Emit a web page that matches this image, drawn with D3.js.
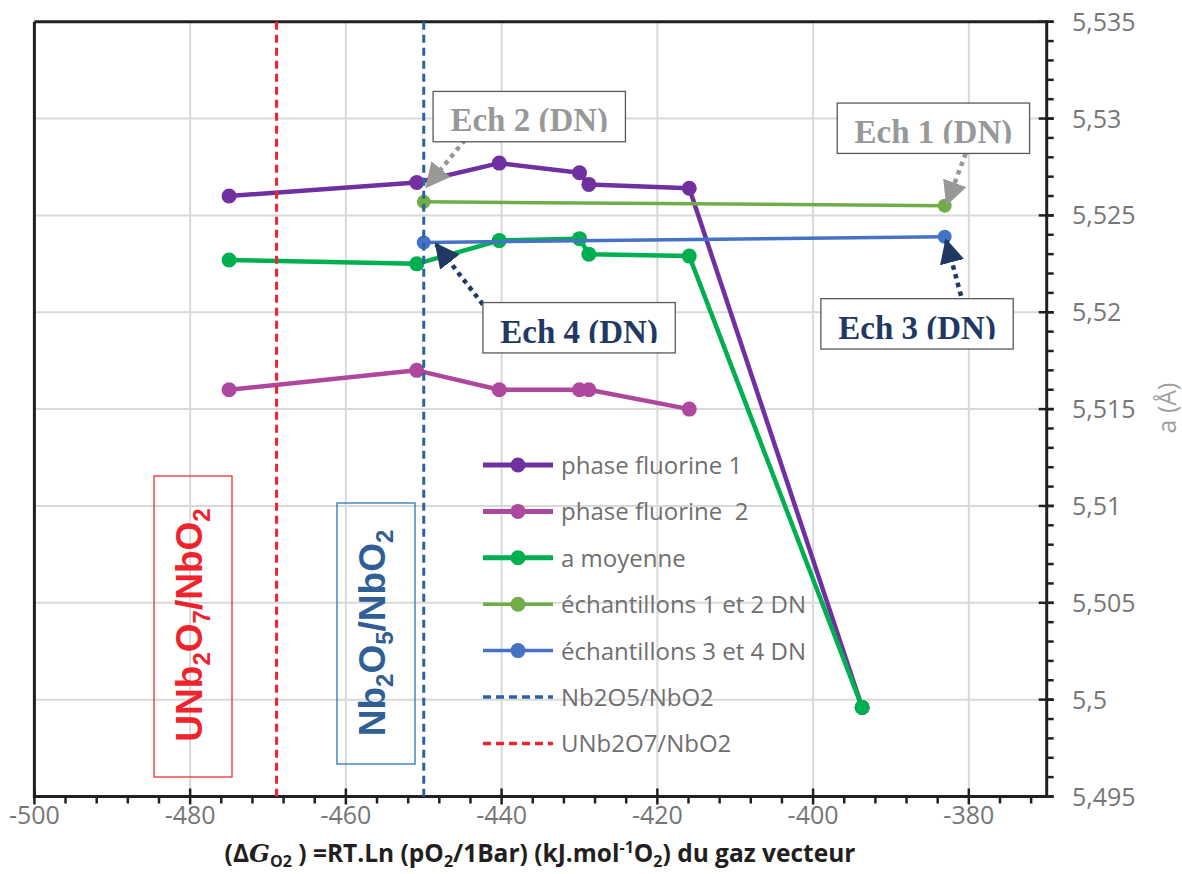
<!DOCTYPE html>
<html><head><meta charset="utf-8">
<script src="https://cdn.jsdelivr.net/npm/d3@7"></script>
<style>body{margin:0;background:#fff}svg{display:block}</style>
</head><body>
<svg id="c" width="1182" height="874"></svg>
<script>
// ---- data ----
const xF = [-475, -450.9, -440.3, -430, -428.8, -415.9, -393.7];
const yF1 = [5.5260, 5.5267, 5.5277, 5.5272, 5.5266, 5.5264, 5.4996];
const xF2 = [-475, -450.9, -440.3, -430, -428.8, -415.9];
const yF2 = [5.5160, 5.5170, 5.5160, 5.5160, 5.5160, 5.5150];
const yMoy = [5.5227, 5.5225, 5.5237, 5.5238, 5.5230, 5.5229, 5.4996];
const xDN = [-450, -383.1];
const yDN12 = [5.5257, 5.5255];
const yDN34 = [5.5236, 5.5239];
const xNb2O5 = -450;
const xUNb2O7 = -468.9;
const xTicks = [-500, -480, -460, -440, -420, -400, -380];
const yTicks = [5.495, 5.5, 5.505, 5.51, 5.515, 5.52, 5.525, 5.53, 5.535];
const legendNames = ["phase fluorine 1", "phase fluorine  2", "a moyenne", "échantillons 1 et 2 DN", "échantillons 3 et 4 DN", "Nb2O5/NbO2", "UNb2O7/NbO2"];
// annotations: box [x0,x1,yTop,yBottom] and arrow [fromX,fromY,toX,toY] in data units
const annTexts = ["Ech 2 (DN)", "Ech 1 (DN)", "Ech 4 (DN)", "Ech 3 (DN)"];
const annBoxes = [[-448.8, -424.1, 5.5314, 5.5288], [-396.9, -372.2, 5.5308, 5.5282], [-442.4, -417.7, 5.5205, 5.5179], [-399.0, -374.3, 5.5207, 5.5181]];
const annArrows = [[-444.7, 5.5289, -449.6, 5.5265], [-380.4, 5.5282, -382.8, 5.5256], [-442.4, 5.5204, -448.4, 5.5235], [-380.7, 5.5204, -382.9, 5.5237]];

// ---- setup ----
const svg = d3.select("#c");
const x = d3.scaleLinear().domain([-500, -370]).range([34.4, 1046.7]);
const y = d3.scaleLinear().domain([5.495, 5.535]).range([796.5, 21.7]);
const FONT = "'Open Sans', 'Noto Sans', sans-serif";
const col = {f1: "#7030a0", f2: "#ae479e", moy: "#00b050", dn12: "#70ad47", dn34: "#4472c4", nb: "#2b639f", un: "#f0232c"};

// grid
const g = svg.append("g");
g.selectAll(".vg").data(d3.range(-480, -370, 20)).join("line")
  .attr("x1", d => x(d)).attr("x2", d => x(d)).attr("y1", y(5.535)).attr("y2", y(5.495))
  .attr("stroke", "#d9d9d9").attr("stroke-width", 2);
g.selectAll(".hg").data(yTicks.slice(1, -1)).join("line")
  .attr("x1", x(-500)).attr("x2", x(-370)).attr("y1", d => y(d)).attr("y2", d => y(d))
  .attr("stroke", "#d9d9d9").attr("stroke-width", 2);

// frame
svg.append("line").attr("x1", x(-500)).attr("x2", x(-370)).attr("y1", y(5.535)).attr("y2", y(5.535)).attr("stroke", "#231f20").attr("stroke-width", 3);
svg.append("line").attr("x1", x(-500)).attr("x2", x(-500)).attr("y1", y(5.535)).attr("y2", y(5.495)).attr("stroke", "#231f20").attr("stroke-width", 3);

// axes
const xMinor = d3.range(-496, -370, 4).filter(v => !xTicks.includes(v));
svg.selectAll(".xm").data(xMinor).join("line")
  .attr("x1", d => x(d)).attr("x2", d => x(d)).attr("y1", y(5.495)).attr("y2", y(5.495) + 7)
  .attr("stroke", "#231f20").attr("stroke-width", 2.5);
svg.selectAll(".xM").data(xTicks).join("line")
  .attr("x1", d => x(d)).attr("x2", d => x(d)).attr("y1", y(5.495) - 8).attr("y2", y(5.495) + 8)
  .attr("stroke", "#231f20").attr("stroke-width", 2.5);
svg.append("line").attr("x1", x(-500) - 1.5).attr("x2", x(-370) + 1.5).attr("y1", y(5.495)).attr("y2", y(5.495)).attr("stroke", "#231f20").attr("stroke-width", 3);
svg.selectAll(".xl").data(xTicks).join("text")
  .attr("x", d => x(d)).attr("y", 824).attr("text-anchor", "middle")
  .attr("font-family", FONT).attr("font-size", 25).attr("fill", "#767676").text(d => d);

const yMinor = d3.range(0, 41).map(i => 5.495 + i * 0.001);
svg.selectAll(".ym").data(yMinor).join("line")
  .attr("x1", x(-370)).attr("x2", x(-370) + 7).attr("y1", d => y(d)).attr("y2", d => y(d))
  .attr("stroke", "#231f20").attr("stroke-width", 2.5);
svg.selectAll(".yM").data(yTicks).join("line")
  .attr("x1", x(-370) - 8).attr("x2", x(-370) + 7).attr("y1", d => y(d)).attr("y2", d => y(d))
  .attr("stroke", "#231f20").attr("stroke-width", 2.5);
svg.append("line").attr("x1", x(-370)).attr("x2", x(-370)).attr("y1", y(5.535) - 1.5).attr("y2", y(5.495) + 1.5).attr("stroke", "#231f20").attr("stroke-width", 3);
svg.selectAll(".yl").data(yTicks).join("text")
  .attr("x", 1072).attr("y", d => y(d) + 9)
  .attr("font-family", FONT).attr("font-size", 25).attr("fill", "#767676")
  .text(d => d3.format(".3~f")(d).replace(".", ","));
svg.append("text").attr("transform", `translate(1176,408) rotate(-90)`).attr("text-anchor", "middle")
  .attr("font-family", FONT).attr("font-size", 25).attr("fill", "#a0a0a0").text("a (Å)");

// x title
const t = svg.append("text").attr("x", 540).attr("y", 862).attr("text-anchor", "middle")
  .attr("font-family", FONT).attr("font-size", 24.5).attr("font-weight", "bold").attr("fill", "#231f20");
t.append("tspan").text("(Δ");
t.append("tspan").attr("font-style", "italic").attr("font-family", "'DejaVu Serif', serif").text("G");
t.append("tspan").attr("font-size", 16).attr("dy", 5).text("O2");
t.append("tspan").attr("dy", -5).text(" ) =RT.Ln (pO");
t.append("tspan").attr("font-size", 16).attr("dy", 5).text("2");
t.append("tspan").attr("dy", -5).text("/1Bar) (kJ.mol");
t.append("tspan").attr("font-size", 16).attr("dy", -9).text("-1");
t.append("tspan").attr("dy", 9).text("O");
t.append("tspan").attr("font-size", 16).attr("dy", 5).text("2");
t.append("tspan").attr("dy", -5).text(") du gaz vecteur");

// rotated labels with boxes
function rotLabel(cx, cy, box, color, border, parts) {
  svg.append("rect").attr("x", box[0]).attr("y", box[1]).attr("width", box[2]).attr("height", box[3])
    .attr("fill", "none").attr("stroke", border).attr("stroke-width", 1.3);
  const tx = svg.append("text").attr("transform", `translate(${cx},${cy}) rotate(-90)`).attr("text-anchor", "middle")
    .attr("font-family", "'Liberation Sans', Arial, sans-serif").attr("font-weight", "bold").attr("font-size", 37).attr("fill", color);
  let sub = false;
  parts.forEach(p => {
    const s = tx.append("tspan").text(p[0]);
    if (p[1] && !sub) { s.attr("font-size", 24).attr("dy", 8); sub = true; }
    else if (!p[1] && sub) { s.attr("dy", -8); sub = false; }
  });
}
rotLabel(202, 625, [154, 476, 78, 301], col.un, "#ee3030",
  [["UNb", 0], ["2", 1], ["O", 0], ["7", 1], ["/NbO", 0], ["2", 1]]);
rotLabel(385, 633, [337, 503, 78, 261], "#305f96", "#2e75b6",
  [["Nb", 0], ["2", 1], ["O", 0], ["5", 1], ["/NbO", 0], ["2", 1]]);

// series
const line = d3.line().x(d => x(d[0])).y(d => y(d[1]));
function series(xs, ys, color, lw, r) {
  const pts = xs.map((v, i) => [v, ys[i]]);
  svg.append("path").datum(pts).attr("d", line).attr("fill", "none").attr("stroke", color)
    .attr("stroke-width", lw).attr("stroke-linejoin", "round");
  svg.append("g").selectAll("circle").data(pts).join("circle")
    .attr("cx", d => x(d[0])).attr("cy", d => y(d[1])).attr("r", r).attr("fill", color);
}
series(xF, yF1, col.f1, 4.5, 7.5);
series(xF2, yF2, col.f2, 4.5, 7.5);
series(xF, yMoy, col.moy, 4.5, 7.5);
series(xDN, yDN12, col.dn12, 3.5, 7);
series(xDN, yDN34, col.dn34, 3.5, 7);
svg.append("line").attr("x1", x(xNb2O5)).attr("x2", x(xNb2O5)).attr("y1", y(5.535)).attr("y2", y(5.495))
  .attr("stroke", col.nb).attr("stroke-width", 3).attr("stroke-dasharray", "8,5");
svg.append("line").attr("x1", x(xUNb2O7)).attr("x2", x(xUNb2O7)).attr("y1", y(5.535)).attr("y2", y(5.495))
  .attr("stroke", col.un).attr("stroke-width", 3).attr("stroke-dasharray", "8,5");

// legend
const legColors = [col.f1, col.f2, col.moy, col.dn12, col.dn34, col.nb, col.un];
const legW = [5, 5, 5, 3.5, 3.5, 3.5, 3.5];
const leg = svg.append("g").selectAll("g").data(legendNames).join("g")
  .attr("transform", (d, i) => `translate(483,${465 + i * 46.4})`);
leg.append("line").attr("x1", 0).attr("x2", 70).attr("stroke", (d, i) => legColors[i])
  .attr("stroke-width", (d, i) => legW[i]).attr("stroke-dasharray", (d, i) => i >= 5 ? "8,5" : null);
leg.filter((d, i) => i < 5).append("circle").attr("cx", 35).attr("r", 7.5).attr("fill", (d, i) => legColors[i]);
leg.append("text").attr("x", 78).attr("y", 9).attr("font-family", FONT).attr("font-size", 24)
  .attr("fill", "#6f6f6f").style("white-space", "pre").text(d => d);

// annotations
const defs = svg.append("defs");
const annColor = ["#989898", "#989898", "#1f3864", "#1f3864"];
annTexts.forEach((txt, i) => {
  const b = annBoxes[i], a = annArrows[i];
  const mk = defs.append("marker").attr("id", "ah" + i).attr("viewBox", "0 0 10 10").attr("refX", 9).attr("refY", 5)
    .attr("markerWidth", 5.5).attr("markerHeight", 5.5).attr("markerUnits", "strokeWidth").attr("orient", "auto");
  mk.append("path").attr("d", "M0,0L10,5L0,10z").attr("fill", annColor[i]);
  svg.append("line").attr("x1", x(a[0])).attr("y1", y(a[1])).attr("x2", x(a[2])).attr("y2", y(a[3]))
    .attr("stroke", annColor[i]).attr("stroke-width", 4.5).attr("stroke-dasharray", "4.5,4.5")
    .attr("marker-end", `url(#ah${i})`);
  const x0 = x(b[0]), x1 = x(b[1]), y0 = y(b[2]), y1 = y(b[3]);
  svg.append("rect").attr("x", x0).attr("y", y0).attr("width", x1 - x0).attr("height", y1 - y0)
    .attr("fill", "#fff").attr("stroke", "#595959").attr("stroke-width", 1.3);
  defs.append("clipPath").attr("id", "cp" + i).append("rect").attr("x", x0).attr("y", y0).attr("width", x1 - x0).attr("height", 40.5);
  svg.append("text").attr("clip-path", `url(#cp${i})`).attr("x", (x0 + x1) / 2).attr("y", y0 + 40)
    .attr("text-anchor", "middle").attr("font-family", "'Liberation Serif', 'Times New Roman', serif")
    .attr("font-weight", "bold").attr("font-size", 33).attr("fill", annColor[i]).text(txt);
});
</script>
</body></html>
